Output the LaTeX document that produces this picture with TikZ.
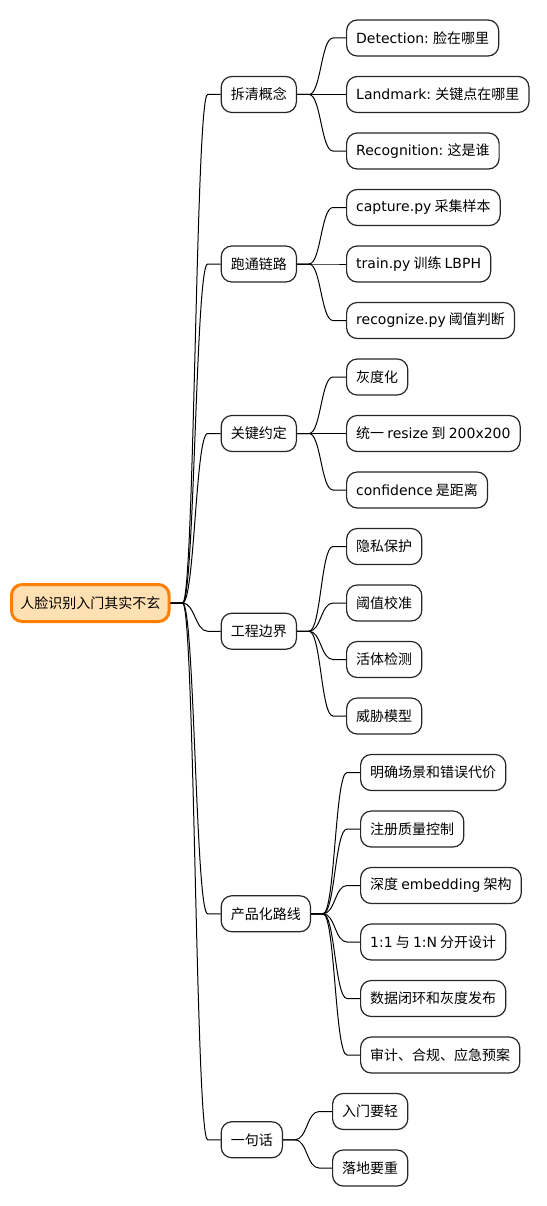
\documentclass[tikz,border=0pt]{standalone}
\usepackage{fontspec}
\setmainfont{Noto Sans CJK SC}
\newfontfamily\enf{DejaVu Sans}
\usetikzlibrary{calc}
\definecolor{myo}{RGB}{255,128,0}
\definecolor{myf}{RGB}{255,224,178}
\tikzset{
	box/.style={
			draw=black!85,
			line width=.9pt,
			rounded corners=8pt,
			fill=white,
			minimum height=27pt,
			inner xsep=7.2pt,
			inner ysep=0pt,
			anchor=west,
			font=\fontsize{10.5pt}{12pt}\selectfont
		},
	link/.style={
			to path={-- ++(12,0) .. controls +(12,0) and ($(\tikztotarget)+(-25,0)$) .. ($(\tikztotarget)+(-13,0)$) -- (\tikztotarget)}
		}
}

\begin{document}
\begin{tikzpicture}[x=.75pt,y=-.75pt]
	\useasboundingbox (0,0) rectangle (546,1206);
	\node[box,draw=myo,fill=myf,line width=2.25pt,minimum height=27.75pt,inner xsep=6.6pt] (r) at (10,603) {人脸识别入门其实不玄};
	\path (r.east) ++(50,0) coordinate (rx);
	\foreach \n/\y/\t in {g1/94.5/拆清概念, g2/264/跑通链路, g3/433.5/关键约定, g4/631.25/工程边界, g5/913.75/产品化路线, g6/1139.75/一句话}{
		\node[box] (\n) at (rx |- 0,\y) {\t};
		\draw[line width=.75pt] (r.east) to[link] (\n.west);
	}
	\foreach \p/\k/\t [evaluate=\k as \y using 38+56.5*\k] in {
			g1/0/{\enf Detection:} 脸在哪里, g1/1/{\enf Landmark:} 关键点在哪里, g1/2/{\enf Recognition:} 这是谁,
			g2/3/{\enf capture.py} 采集样本, g2/4/{\enf train.py} 训练 {\enf LBPH}, g2/5/{\enf recognize.py} 阈值判断,
			g3/6/灰度化, g3/7/统一 {\enf resize} 到 {\enf 200x200}, g3/8/{\enf confidence} 是距离,
			g4/9/隐私保护, g4/10/阈值校准, g4/11/活体检测, g4/12/威胁模型,
			g5/13/明确场景和错误代价, g5/14/注册质量控制, g5/15/深度 {\enf embedding} 架构,
			g5/16/{\enf 1:1} 与 {\enf 1:N} 分开设计, g5/17/数据闭环和灰度发布, g5/18/审计、合规、应急预案,
			g6/19/入门要轻, g6/20/落地要重}{
		\path (\p.east) ++(49,0) coordinate (px);
		\node[box] (\p-\k) at (px |- 0,\y) {\t};
		\draw[line width=.75pt] (\p.east) to[link] (\p-\k.west);
	}
\end{tikzpicture}
\end{document}
